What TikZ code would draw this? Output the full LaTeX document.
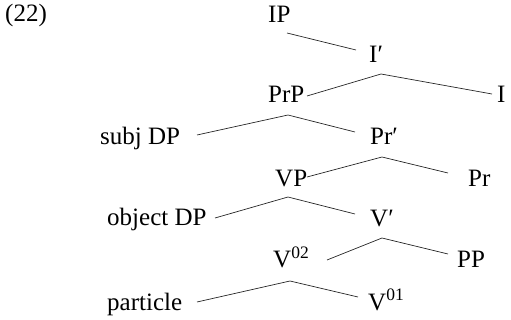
\documentclass[tikz,border=0pt]{standalone}
\usepackage{fontspec}
\setmainfont{Liberation Serif}
\tikzset{
  lbl/.style={anchor=base west, inner sep=0pt, font=\fontsize{25}{29}\selectfont},
  branch/.style={line width=0.7pt, draw=black!85}
}
\begin{document}
\begin{tikzpicture}[x=1pt,y=-1pt]
\useasboundingbox (0,0) rectangle (511,320);
% labels
\node[lbl] (ex) at (5,22) {(22)};
\node[lbl] (IP) at (268,23) {IP};
\node[lbl] (Ibar) at (369,63) {I′};
\node[lbl] (PrP) at (268,103) {PrP};
\node[lbl] (I) at (497,103) {I};
\node[lbl] (subjDP) at (100,145) {subj DP};
\node[lbl] (Prbar) at (370,145) {Pr′};
\node[lbl] (VP) at (275,187) {VP};
\node[lbl] (Pr) at (468,187) {Pr};
\node[lbl] (objDP) at (107,226) {object DP};
\node[lbl] (Vbar) at (370,227) {V′};
\node[lbl] (Vtwo) at (273,268) {V\textsuperscript{02}};
\node[lbl] (PP) at (457,268) {PP};
\node[lbl] (particle) at (107,310) {particle};
\node[lbl] (Vone) at (368,310) {V\textsuperscript{01}};
% branch points
\coordinate (IP-a) at (287,33);
\coordinate (Ibar-in) at (356,50);
\coordinate (Ibar-a) at (381,74);
\coordinate (PrP-in) at (307,96);
\coordinate (I-in) at (492,94);
\coordinate (PrP-a) at (288,115);
\coordinate (subjDP-in) at (197,135);
\coordinate (Prbar-in) at (355,132);
\coordinate (Prbar-a) at (382,157);
\coordinate (VP-in) at (307,177);
\coordinate (Pr-in) at (448,173);
\coordinate (VP-a) at (288,197);
\coordinate (objDP-in) at (215,218);
\coordinate (Vbar-in) at (355,214);
\coordinate (Vbar-a) at (382,238);
\coordinate (Vtwo-in) at (327,260);
\coordinate (PP-in) at (448,254);
\coordinate (Vtwo-a) at (290,281);
\coordinate (particle-in) at (197,302);
\coordinate (Vone-in) at (358,297);
% branches
\draw[branch] (IP-a) -- (Ibar-in);
\draw[branch] (PrP-in) -- (Ibar-a) -- (I-in);
\draw[branch] (subjDP-in) -- (PrP-a) -- (Prbar-in);
\draw[branch] (VP-in) -- (Prbar-a) -- (Pr-in);
\draw[branch] (objDP-in) -- (VP-a) -- (Vbar-in);
\draw[branch] (Vtwo-in) -- (Vbar-a) -- (PP-in);
\draw[branch] (particle-in) -- (Vtwo-a) -- (Vone-in);
\end{tikzpicture}
\end{document}
